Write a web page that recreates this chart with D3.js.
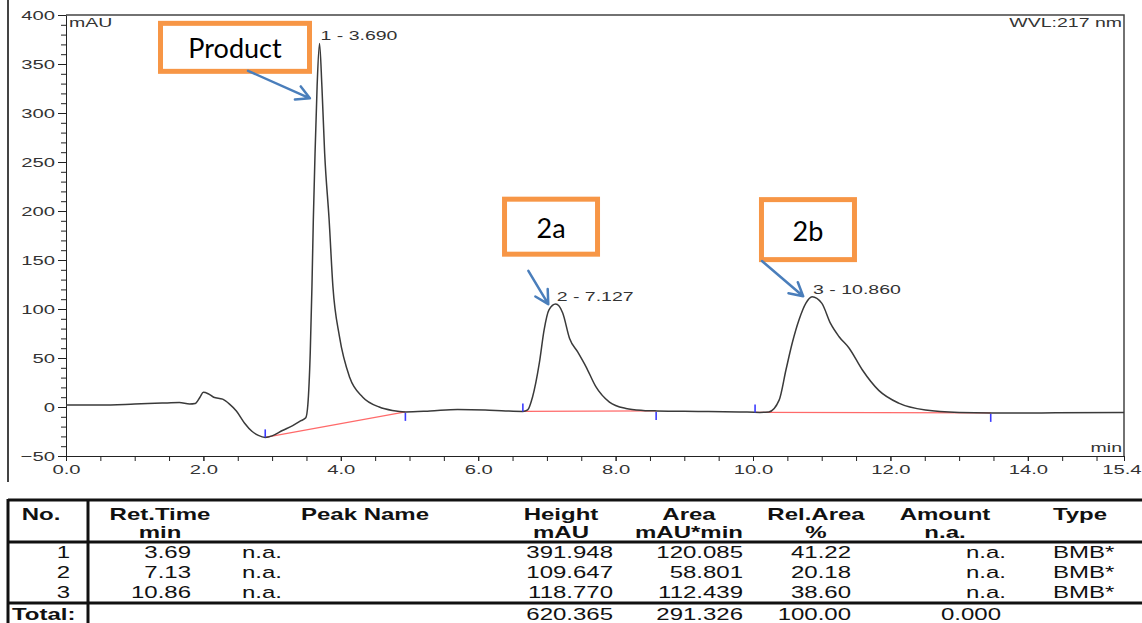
<!DOCTYPE html>
<html><head><meta charset="utf-8">
<script src="https://cdn.jsdelivr.net/npm/d3@7"></script>
<style>body{margin:0;background:#fff}svg{display:block}</style>
</head><body><svg id="c" width="1142" height="623"></svg>
<script>
// ---- chromatogram trace [time (min), signal (mAU)] ----
const trace = [
  [0,2],[0.5,2],[1.0,3],[1.4,4],[1.65,4.5],[1.8,3],[1.88,3.5],[1.95,10],[2.0,15],[2.07,13.5],
  [2.15,10],[2.28,8],[2.38,3],[2.48,-4],[2.6,-16.5],[2.71,-25],[2.8,-29],[2.9,-31],[3.0,-29.5],
  [3.15,-24],[3.3,-19],[3.42,-14],[3.49,-11],[3.52,2],[3.555,55],[3.58,123],[3.6,191],[3.625,259],
  [3.655,327],[3.69,371],[3.725,327],[3.765,259],[3.83,191],[3.885,123],[3.98,72],[4.13,30],
  [4.32,10],[4.56,0],[4.75,-3.5],[4.94,-5],[5.3,-4],[5.7,-2.5],[6.1,-3],[6.4,-4],[6.65,-4.5],
  [6.72,-3],[6.79,10],[6.89,45],[6.96,79],[7.03,99],[7.127,105],[7.23,96],[7.33,70],[7.45,56],
  [7.57,41],[7.71,21],[7.91,5],[8.15,-1.5],[8.4,-3.5],[8.6,-4],[9.2,-4.5],[9.8,-5],[10.1,-5.5],
  [10.23,-5],[10.38,7],[10.48,38],[10.57,65],[10.67,89],[10.77,106],[10.86,112.5],[11.0,106],
  [11.13,85],[11.25,72],[11.4,60],[11.59,38],[11.83,17],[12.12,4],[12.51,-3],[13.0,-5.5],
  [13.46,-6],[14.2,-6],[15.4,-5.5]
];
// axis ticks
const xTickVals = [0,2,4,6,8,10,12,14,15.4];
const yTickVals = [-50,0,50,100,150,200,250,300,350,400];
// peaks
const peakRet = [3.690, 7.127, 10.860];
const peakStartT = [2.90, 6.65, 10.03];
const peakStartV = [-31, -4.5, -5.5];
const peakEndT = [4.94, 8.59, 13.46];
const peakEndV = [-5, -4, -6];
// annotations (positions in data units)
const annText = ["Product","2a","2b"];
const annBoxT = [2.46, 7.06, 10.80];
const annBoxV = [367, 184, 181];
const annFromT = [2.65, 6.73, 10.13];
const annFromV = [343, 139, 149];
const annToT = [3.55, 7.02, 10.73];
const annToV = [315, 105, 113];
// results table
const hdr1 = ["No.","Ret.Time","Peak Name","Height","Area","Rel.Area","Amount","Type"];
const hdr2 = ["","min","","mAU","mAU*min","%","n.a.",""];
const tblNo = ["1","2","3"];
const tblRet = ["3.69","7.13","10.86"];
const tblName = ["n.a.","n.a.","n.a."];
const tblHeight = ["391.948","109.647","118.770"];
const tblArea = ["120.085","58.801","112.439"];
const tblRel = ["41.22","20.18","38.60"];
const tblAmount = ["n.a.","n.a.","n.a."];
const tblType = ["BMB*","BMB*","BMB*"];
const totalVals = ["620.365","291.326","100.00","0.000"];

const SX = 1.5; // horizontal stretch of the original screenshot
const FONT = "'Liberation Sans', Arial, sans-serif";
const svg = d3.select("#c");
const x = d3.scaleLinear().domain([0,15.4]).range([66,1124]);
const y = d3.scaleLinear().domain([-50,400]).range([456,15]);

function st(g, px, py, str, o={}) {
  return g.append("text")
    .attr("transform", `translate(${px},${py}) scale(${o.sx ?? SX},1)`)
    .attr("text-anchor", o.anchor || "start")
    .attr("font-family", o.family || FONT)
    .attr("font-size", o.size || 13)
    .attr("font-weight", o.bold ? "bold" : "normal")
    .attr("fill", o.fill || "#333")
    .text(str);
}

// outer frame line (left)
svg.append("line").attr("x1",8).attr("x2",8).attr("y1",0).attr("y2",482).attr("stroke","#444").attr("stroke-width",2);

// plot border top/right
svg.append("path").attr("d",`M${x(0)},${y(400)}H${x(15.4)}V${y(-50)}`).attr("fill","none").attr("stroke","#444").attr("stroke-width",1.5);

// y axis
const gy = svg.append("g").attr("transform",`translate(${x(0)},0)`)
  .call(d3.axisLeft(y).tickValues(yTickVals).tickSize(8).tickSizeOuter(0).tickFormat(d3.format("d")));
svg.append("g").attr("transform",`translate(${x(0)},0)`)
  .call(d3.axisLeft(y).tickValues(d3.range(-50,401,10)).tickSize(5).tickFormat(""))
  .call(g=>g.select(".domain").remove());
gy.selectAll("text").attr("transform",`scale(${SX},1)`).attr("x",-11/SX)
  .attr("font-family",FONT).attr("font-size",13.5).attr("fill","#333");
// x axis
const gx = svg.append("g").attr("transform",`translate(0,${y(-50)})`)
  .call(d3.axisBottom(x).tickValues(xTickVals).tickSize(5).tickSizeOuter(0).tickFormat(d3.format(".1f")));
svg.append("g").attr("transform",`translate(0,${y(-50)})`)
  .call(d3.axisBottom(x).tickValues(d3.range(0,15.41,0.5)).tickSize(5).tickFormat(""))
  .call(g=>g.select(".domain").remove());
gx.selectAll("text").attr("transform",`scale(${SX},1)`).attr("x",0)
  .attr("font-family",FONT).attr("font-size",13.5).attr("fill","#333");
// last label kept inside the page edge
gx.selectAll(".tick").filter(d=>d===15.4).select("text")
  .attr("text-anchor","end").attr("x",(1141 - x(15.4))/SX);
svg.selectAll(".domain, .tick line").attr("stroke","#222");

st(svg, x(0)+3, 27, "mAU");
st(svg, x(15.4)-2, 27, "WVL:217 nm", {anchor:"end"});
st(svg, x(15.4)-2, 452, "min", {anchor:"end"});

// baselines (red)
peakRet.forEach((d,i)=>{
  svg.append("line").attr("x1",x(peakStartT[i])).attr("y1",y(peakStartV[i]))
    .attr("x2",x(peakEndT[i])).attr("y2",y(peakEndV[i]))
    .attr("stroke","#ff6a6a").attr("stroke-width",1.2);
});

// trace
const line = d3.line().x(d=>x(d[0])).y(d=>y(d[1])).curve(d3.curveMonotoneX);
svg.append("path").datum(trace).attr("d",line).attr("fill","none")
  .attr("stroke","#3a3a3a").attr("stroke-width",1.5);

// peak delimiter ticks
peakRet.forEach((d,i)=>{
  const sxp = x(peakStartT[i]), syp = y(peakStartV[i]);
  svg.append("line").attr("x1",sxp).attr("x2",sxp).attr("y1",syp).attr("y2",syp-8).attr("stroke","#3b3bff").attr("stroke-width",1.6);
  const exp = x(peakEndT[i]), eyp = y(peakEndV[i]);
  svg.append("line").attr("x1",exp).attr("x2",exp).attr("y1",eyp+1).attr("y2",eyp+9).attr("stroke","#3b3bff").attr("stroke-width",1.6);
});

// peak labels
peakRet.forEach((t,i)=>{
  const apex = trace.reduce((a,b)=>Math.abs(b[0]-t)<Math.abs(a[0]-t)?b:a);
  st(svg, x(t)+1, y(apex[1])-3, `${i+1} - ${t.toFixed(3)}`, {size:13});
});

// annotations
const boxW = [149, 93, 93], boxH = [48, 55, 60];
annText.forEach((s,i)=>{
  const cx = x(annBoxT[i]), cy = y(annBoxV[i]);
  svg.append("rect").attr("x",cx-boxW[i]/2).attr("y",cy-boxH[i]/2).attr("width",boxW[i]).attr("height",boxH[i])
    .attr("fill","#fff").attr("stroke","#F79646").attr("stroke-width",5);
  st(svg, cx, cy+11, s, {anchor:"middle", sx:1, size:27, family:"Lato, 'Open Sans', sans-serif", fill:"#000"});
  const x1 = x(annFromT[i]), y1 = y(annFromV[i]), x2 = x(annToT[i]), y2 = y(annToV[i]);
  const a = Math.atan2(y2-y1, x2-x1), L = 15, h = 0.5;
  svg.append("path")
    .attr("d",`M${x1},${y1}L${x2},${y2}M${x2-L*Math.cos(a-h)},${y2-L*Math.sin(a-h)}L${x2},${y2}L${x2-L*Math.cos(a+h)},${y2-L*Math.sin(a+h)}`)
    .attr("fill","none").attr("stroke","#4A7EBB").attr("stroke-width",2.5).attr("stroke-linecap","round").attr("stroke-linejoin","round");
});

// ---- table ----
const tg = svg.append("g");
const TS = 16;
[[8,1142,500],[8,1142,542],[8,1142,603]].forEach(l=>{
  tg.append("line").attr("x1",l[0]).attr("x2",l[1]).attr("y1",l[2]).attr("y2",l[2]).attr("stroke","#111").attr("stroke-width",3);
});
[8,88].forEach(v=>{
  tg.append("line").attr("x1",v).attr("x2",v).attr("y1",499).attr("y2",623).attr("stroke","#111").attr("stroke-width",3);
});
const hdrX = [41,160,365,561,689,816,945,1080];
hdr1.forEach((s,i)=>st(tg, hdrX[i], 520, s, {anchor:"middle", bold:true, size:TS, fill:"#111"}));
hdr2.forEach((s,i)=>{ if(s) st(tg, hdrX[i], 538, s, {anchor:"middle", bold:true, size:TS, fill:"#111"}); });
const rowY = [558, 578, 598];
tblNo.forEach((s,i)=>{
  const yy = rowY[i], o = {size:TS, fill:"#111"};
  st(tg, 70, yy, s, {...o, anchor:"end"});
  st(tg, 191, yy, tblRet[i], {...o, anchor:"end"});
  st(tg, 242, yy, tblName[i], o);
  st(tg, 613, yy, tblHeight[i], {...o, anchor:"end"});
  st(tg, 743, yy, tblArea[i], {...o, anchor:"end"});
  st(tg, 851, yy, tblRel[i], {...o, anchor:"end"});
  st(tg, 1006, yy, tblAmount[i], {...o, anchor:"end"});
  st(tg, 1053, yy, tblType[i], o);
});
st(tg, 12, 620, "Total:", {size:TS, bold:true, fill:"#111"});
[613,743,851,1001].forEach((xx,i)=>st(tg, xx, 620, totalVals[i], {size:TS, anchor:"end", fill:"#111"}));
</script></body></html>
